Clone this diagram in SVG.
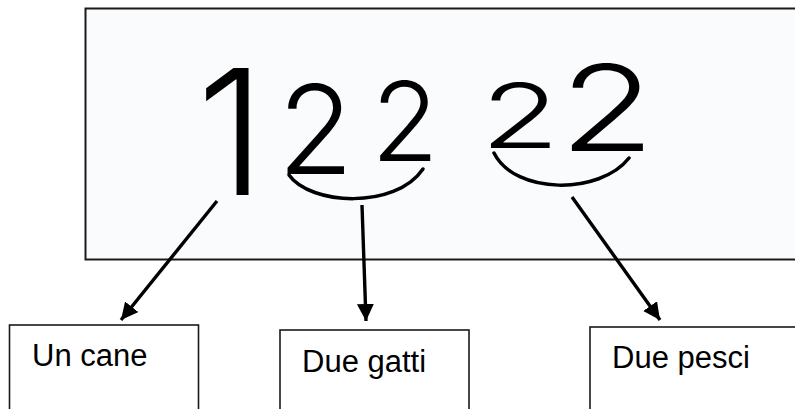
<svg xmlns="http://www.w3.org/2000/svg" width="795" height="409" viewBox="0 0 795 409">
  <style>
    .box { fill: #ffffff; stroke: #1a1a1a; stroke-width: 1.6; }
    .label { font-family: "Liberation Sans", Arial, sans-serif; font-size: 31px; fill: #000; }
    .digit { font-family: Inter, "DejaVu Sans", sans-serif; font-weight: 300; fill: #000; text-anchor: middle; }
    .conn { fill: none; stroke: #000; stroke-width: 3.4; }
    .brace { fill: none; stroke: #000; stroke-width: 3.5; stroke-linecap: round; }
  </style>
  <defs>
    <marker id="arrow" markerUnits="userSpaceOnUse" markerWidth="18" markerHeight="18" refX="17" refY="8.5" orient="auto">
      <path d="M0,0 L17,8.5 L0,17 z" fill="#000"/>
    </marker>
  </defs>
  <rect width="795" height="409" fill="#ffffff"/>

  <g id="photo">
    <rect x="85.5" y="8.5" width="720" height="251" fill="#fafbfd" stroke="#1a1a1a" stroke-width="2"/>
    <text class="digit" font-size="175" transform="translate(231,195)">1</text>
    <text class="digit" font-size="124" transform="translate(315.5,174)">2</text>
    <text class="digit" font-size="110" transform="translate(405,161)">2</text>
    <text class="digit" font-size="89" transform="translate(520,148) scale(1.45,1)">2</text>
    <text class="digit" font-size="120" transform="translate(607,151) scale(1.3,1)">2</text>
  </g>

  <g id="connectors">
    <path class="brace" d="M289,175 C310,205 395,210 423,169"/>
    <path class="brace" d="M494,153 C515,195 600,195 629,158"/>
    <line class="conn" x1="217" y1="201" x2="121" y2="320" marker-end="url(#arrow)"/>
    <line class="conn" x1="362" y1="205" x2="366" y2="321" marker-end="url(#arrow)"/>
    <line class="conn" x1="572" y1="197" x2="660" y2="320" marker-end="url(#arrow)"/>
  </g>

  <g id="node-un-cane">
    <rect class="box" x="9.5" y="325" width="189" height="100"/>
    <text class="label" x="32" y="366">Un cane</text>
  </g>
  <g id="node-due-gatti">
    <rect class="box" x="280" y="330" width="189" height="100"/>
    <text class="label" x="302" y="372">Due gatti</text>
  </g>
  <g id="node-due-pesci">
    <rect class="box" x="590" y="327" width="230" height="100"/>
    <text class="label" x="612" y="368">Due pesci</text>
  </g>
</svg>
